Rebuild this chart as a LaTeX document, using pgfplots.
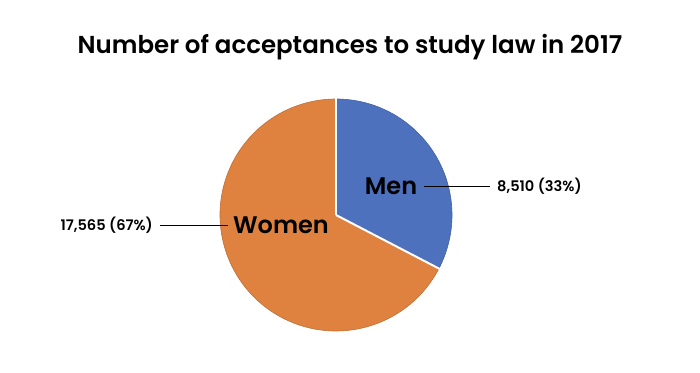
\documentclass[border=0pt]{standalone}
\usepackage{fontspec}
\setmainfont{Poppins}
\newfontfamily\semib{Poppins SemiBold}
\newfontfamily\medium{Poppins Medium}
\usepackage{pgfplots}
\pgfplotsset{compat=1.18}
\definecolor{menblue}{HTML}{4E71BE}
\definecolor{womorange}{HTML}{E0823F}
\newcommand\menval{8510}
\newcommand\womenval{17565}
\edef\splitang{\fpeval{round(90-360*\menval/(\menval+\womenval),3)}}
\begin{document}
\begin{tikzpicture}
\begin{axis}[
  width=700pt, height=372pt, scale only axis,
  xmin=0, xmax=700, ymin=0, ymax=372,
  hide axis, clip=false]
\path (axis cs:0,0) rectangle (axis cs:700,372);
\fill[womorange] (axis cs:336,157) -- ++(\splitang:116pt) arc[start angle=\splitang, end angle=-270, radius=116pt] -- cycle;
\fill[menblue] (axis cs:336,157) -- ++(90:116pt) arc[start angle=90, end angle=\splitang, radius=116pt] -- cycle;
\draw[womorange!85!black, line width=0.6pt] (axis cs:336,157) ++(\splitang:116pt) arc[start angle=\splitang, end angle=-270, radius=116pt];
\draw[menblue!85!black, line width=0.6pt] (axis cs:336,157) ++(90:116pt) arc[start angle=90, end angle=\splitang, radius=116pt];
\draw[white, line width=2pt] (axis cs:336,157) -- ++(90:117pt);
\draw[white, line width=2pt] (axis cs:336,157) -- ++(\splitang:117pt);
\node[font=\semib\fontsize{24.5}{28}\selectfont] at (axis cs:350,325) {Number of acceptances to study law in 2017};
\node[font=\semib\fontsize{24}{28}\selectfont] at (axis cs:391,186) {Men};
\node[font=\semib\fontsize{24}{28}\selectfont] at (axis cs:281,147) {Women};
\draw[line width=0.8pt] (axis cs:424,186) -- (axis cs:490,186);
\draw[line width=0.8pt] (axis cs:160,147) -- (axis cs:228,147);
\node[font=\semib\fontsize{14.6}{17}\selectfont, anchor=west, inner sep=0pt] at (axis cs:497,186) {8,510 (33\%)};
\node[font=\semib\fontsize{14.6}{17}\selectfont, anchor=east, inner sep=0pt] at (axis cs:153,147) {17,565 (67\%)};
\end{axis}
\end{tikzpicture}
\end{document}
